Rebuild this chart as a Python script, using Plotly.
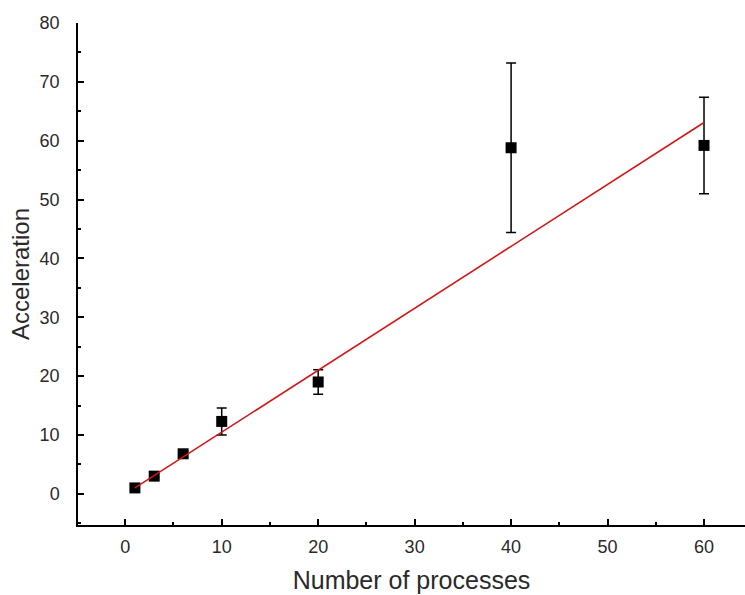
import plotly.graph_objects as go

processes = [1, 3, 6, 10, 20, 40, 60]
acceleration = [1.0, 3.0, 6.8, 12.3, 19.0, 58.8, 59.2]
error = [0.3, 0.3, 0.4, 2.3, 2.1, 14.4, 8.2]
fit_x = [1, 60]
fit_y = [1.0, 63.1]

x_ticks = [0, 10, 20, 30, 40, 50, 60]
y_ticks = [0, 10, 20, 30, 40, 50, 60, 70, 80]

fig = go.Figure()
fig.add_trace(go.Scatter(
    x=processes, y=acceleration, mode="markers",
    marker=dict(symbol="square", size=11, color="black"),
    error_y=dict(type="data", array=error, visible=True, color="black",
                 thickness=1.5, width=5),
    showlegend=False,
))
fig.add_trace(go.Scatter(
    x=fit_x, y=fit_y, mode="lines",
    line=dict(color="#d01818", width=1.6), showlegend=False,
))

font_tick = dict(family="Liberation Sans, Arial, sans-serif", size=18, color="#2a2a2a")
font_xtitle = dict(family="Liberation Sans, Arial, sans-serif", size=25, color="#2a2a2a")
font_ytitle = dict(family="Liberation Sans, Arial, sans-serif", size=24, color="#2a2a2a")

fig.update_layout(
    width=745, height=595,
    margin=dict(l=78, r=0, t=23, b=70),
    plot_bgcolor="white", paper_bgcolor="white",
    xaxis=dict(
        range=[-4.9, 64.25], tickvals=x_ticks, ticktext=[str(v) for v in x_ticks],
        ticks="inside", ticklen=6, tickwidth=1.5, tickcolor="black",
        minor=dict(dtick=5, ticks="inside", ticklen=3, tickwidth=1.5, tickcolor="black"),
        showline=True, linecolor="black", linewidth=1.5,
        showgrid=False, zeroline=False, tickfont=font_tick,
        ticklabelstandoff=5,
        title=dict(text="Number of processes", font=font_xtitle, standoff=15),
    ),
    yaxis=dict(
        range=[-5.3, 80], tickvals=y_ticks, ticktext=[str(v) for v in y_ticks],
        ticks="inside", ticklen=6, tickwidth=1.5, tickcolor="black",
        minor=dict(dtick=5, ticks="inside", ticklen=3, tickwidth=1.5, tickcolor="black"),
        showline=True, linecolor="black", linewidth=1.5,
        showgrid=False, zeroline=False, tickfont=font_tick,
        ticklabelstandoff=13,
        title=dict(text="Acceleration", font=font_ytitle, standoff=3),
    ),
)

fig.write_html("out.html")
